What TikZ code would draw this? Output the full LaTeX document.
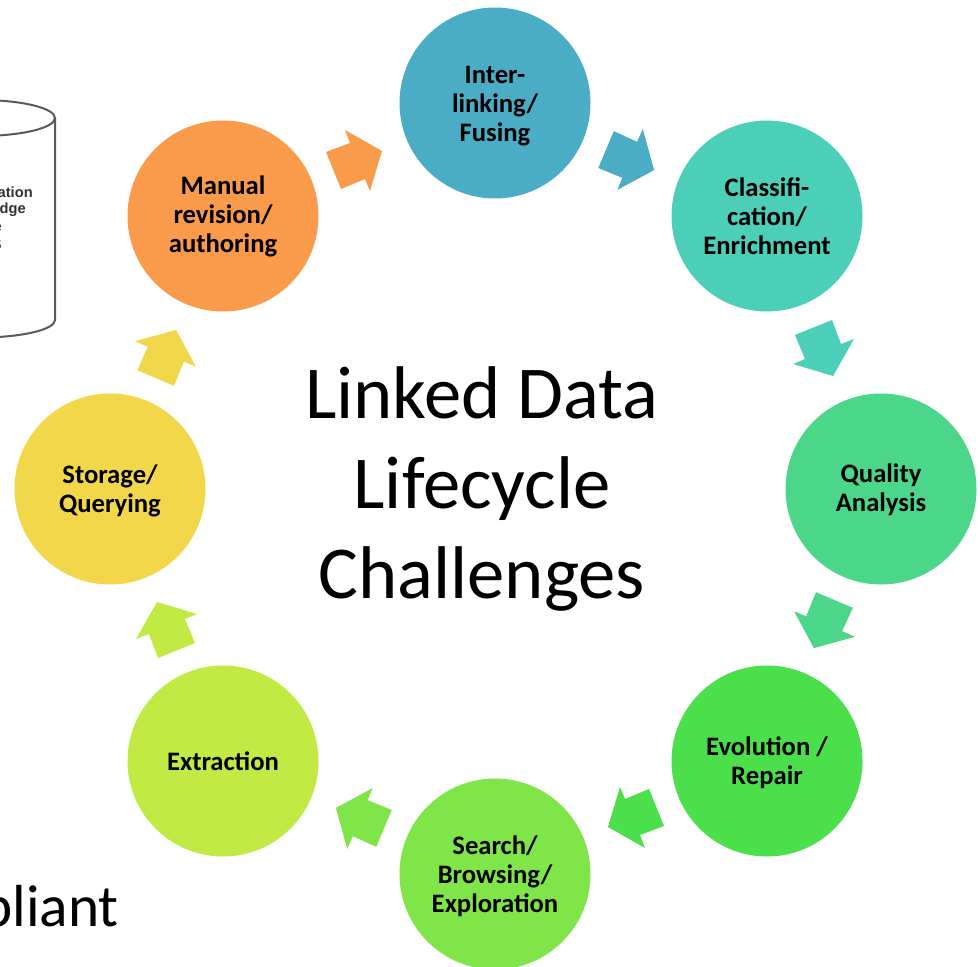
\documentclass[tikz,border=0pt]{standalone}
\usepackage{fontspec}
\setmainfont{Carlito}
\newfontfamily\cylfont{Liberation Sans}
\newcommand{\lift}{\rule{0pt}{17pt}}
\definecolor{cBlue}{HTML}{4BACC6}
\definecolor{cTeal}{HTML}{4BCFB8}
\definecolor{cSea}{HTML}{4BD68A}
\definecolor{cGreen}{HTML}{4ADF4B}
\definecolor{cLeaf}{HTML}{80E548}
\definecolor{cLime}{HTML}{C1EB44}
\definecolor{cYellow}{HTML}{F2D74A}
\definecolor{cOrange}{HTML}{F99B4A}
\definecolor{cylGray}{HTML}{5A5A5A}
\tikzset{
  stage/.style={circle,minimum size=143.25pt,inner sep=0pt,align=center,text=black,
    font=\fontsize{20}{21.8}\selectfont\bfseries},
  title/.style={align=center,text=black,font=\fontsize{56}{67.5}\selectfont},
  cyl/.style={draw=cylGray,line width=1.5pt,fill=white},
  cyltext/.style={anchor=east,text=black!80,inner sep=0pt,font=\fontsize{11}{12}\selectfont\bfseries\cylfont}
}
\begin{document}
\begin{tikzpicture}[x=0.75pt,y=-0.75pt]
\useasboundingbox (0,0) rectangle (980,966);
\clip (0,0) rectangle (980,966);
\fill[white] (0,0) rectangle (980,966);
% cylinder
\draw[cyl] (-20,118) ellipse [x radius=75,y radius=18];
\draw[cyl,fill=none] (55,118) -- (55,320) arc [start angle=0,end angle=90,x radius=75,y radius=17.5];
\node[cyltext] (cyla) at (33,192) {ation};
\node[cyltext] (cylb) at (26,210) {edge};
\node[cyltext] (cylc) at (2,228) {e};
\node[cyltext] (cyld) at (2,244) {S};
% stages
\node[stage,fill=cBlue] (n1) at (495,103) {\lift Inter-\\linking/\\Fusing};
\node[stage,fill=cTeal] (n2) at (767,216) {Classifi-\\cation/\\Enrichment};
\node[stage,fill=cSea] (n3) at (881,489) {\rule{0pt}{15.5pt}Quality\\Analysis};
\node[stage,fill=cGreen] (n4) at (767,761) {\lift Evolution /\\Repair};
\node[stage,fill=cLeaf] (n5) at (495,874) {\lift Search/\\Browsing/\\Exploration};
\node[stage,fill=cLime] (n6) at (223,761) {Extraction};
\node[stage,fill=cYellow] (n7) at (110,489) {\lift Storage/\\Querying};
\node[stage,fill=cOrange] (n8) at (223,216) {Manual\\revision/\\authoring};
% block arrows between stages
\coordinate (ringc) at (495,489);
\foreach \a/\c in {0/cOrange,45/cBlue,90/cTeal,135/cSea,180/cGreen,225/cLeaf,270/cLime,315/cYellow}{
  \begin{scope}[rotate around={-\a:(ringc)}]
    \fill[\c] (326,152) -- (350,143) -- (345,130) -- (382,151) -- (370,191) -- (365,179) -- (341,189) -- cycle;
  \end{scope}
}
% texts
\node[title] (t) at (482,488.5) {Linked Data\\Lifecycle\\Challenges};
\node[anchor=base east,inner sep=0pt,text=black,font=\fontsize{44.5}{50}\selectfont] (p) at (119,926) {pliant};
\end{tikzpicture}
\end{document}
